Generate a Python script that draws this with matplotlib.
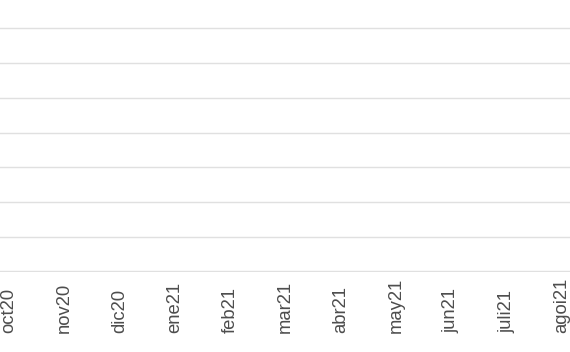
import matplotlib
matplotlib.use("Agg")
import matplotlib.pyplot as plt

# month labels along the x axis (no data points are shown in the chart)
months = ['oct20', 'nov20', 'dic20', 'ene21', 'feb21', 'mar21',
          'abr21', 'may21', 'jun21', 'juli21', 'agoi21']
y_grid = [0, 1, 2, 3, 4, 5, 6, 7]
values = []  # empty series

plt.rcParams['font.family'] = ['Liberation Sans', 'DejaVu Sans']

fig = plt.figure(figsize=(5.70, 3.52), dpi=100)
ax = fig.add_axes((0, 0.226, 1, 0.774))

x = list(range(len(months)))
if values:
    ax.plot(x[:len(values)], values)

ax.set_xlim(-0.163, 10.144)
ax.set_ylim(-0.03, 7.82)
ax.set_yticks(y_grid)
ax.set_xticks(x)
ax.set_xticklabels(months, rotation=90, va='bottom', ha='center',
                   fontsize=13.3, color='#4d4d4d')
ax.tick_params(axis='x', length=0, pad=43.5)
ax.tick_params(axis='y', length=0, labelleft=False)
ax.grid(axis='y', color='#e0e0e0', linewidth=1)
ax.grid(axis='x', visible=False)
for s in ax.spines.values():
    s.set_visible(False)

fig.savefig('out.png', dpi=100)
